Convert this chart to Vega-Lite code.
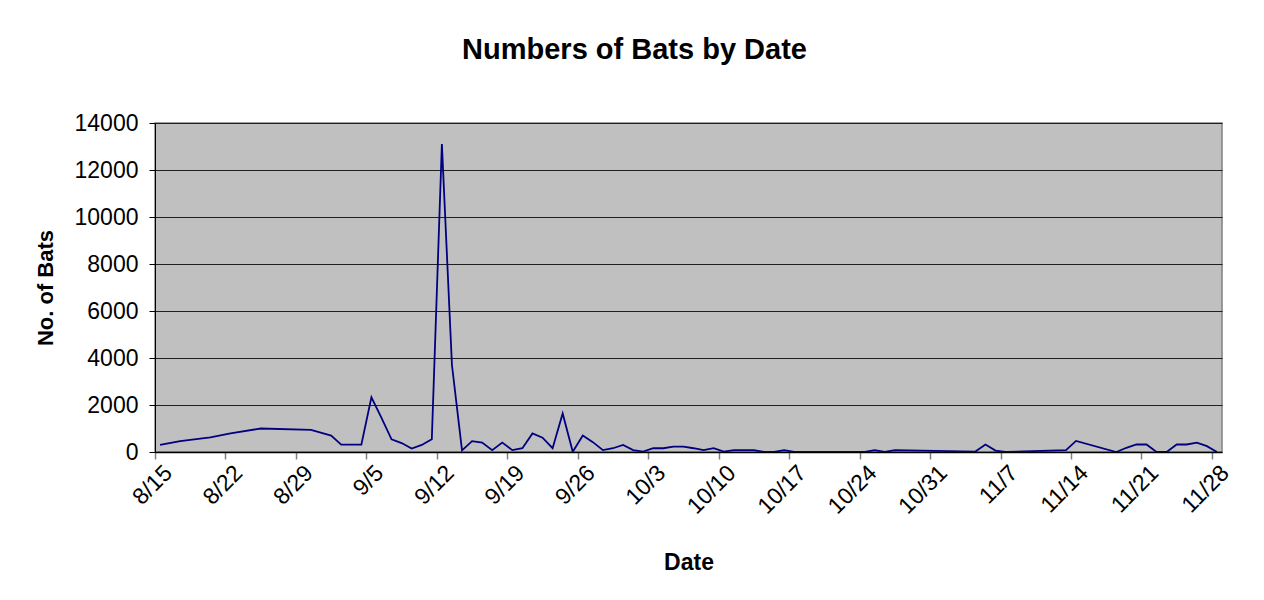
{
  "$schema": "https://vega.github.io/schema/vega-lite/v6.json",
  "width": 1067,
  "height": 329,
  "autosize": "none",
  "padding": {"left": 155, "top": 123, "right": 42, "bottom": 148},
  "background": "#FFFFFF",
  "config": {
    "font": "Liberation Sans",
    "view": {"fill": "#C0C0C0", "stroke": "#808080", "strokeWidth": 1.5}
  },
  "title": {
    "text": "Numbers of Bats by Date",
    "fontSize": 29,
    "fontWeight": "bold",
    "font": "Liberation Sans",
    "color": "#000000",
    "anchor": "middle",
    "frame": "group",
    "dx": -54,
    "offset": 47
  },
  "data": {
    "values": [
      {"date": "2008-08-15T12:00:00Z", "bats": 300},
      {"date": "2008-08-17T12:00:00Z", "bats": 460},
      {"date": "2008-08-20T12:00:00Z", "bats": 620},
      {"date": "2008-08-22T12:00:00Z", "bats": 790},
      {"date": "2008-08-25T12:00:00Z", "bats": 1000},
      {"date": "2008-08-30T12:00:00Z", "bats": 940},
      {"date": "2008-09-01T12:00:00Z", "bats": 700},
      {"date": "2008-09-02T12:00:00Z", "bats": 310},
      {"date": "2008-09-03T12:00:00Z", "bats": 310},
      {"date": "2008-09-04T12:00:00Z", "bats": 310},
      {"date": "2008-09-05T12:00:00Z", "bats": 2330},
      {"date": "2008-09-06T12:00:00Z", "bats": 1450},
      {"date": "2008-09-07T12:00:00Z", "bats": 540},
      {"date": "2008-09-08T12:00:00Z", "bats": 380},
      {"date": "2008-09-09T12:00:00Z", "bats": 150},
      {"date": "2008-09-10T12:00:00Z", "bats": 300},
      {"date": "2008-09-11T12:00:00Z", "bats": 540},
      {"date": "2008-09-12T12:00:00Z", "bats": 13100},
      {"date": "2008-09-13T12:00:00Z", "bats": 3700},
      {"date": "2008-09-14T12:00:00Z", "bats": 70},
      {"date": "2008-09-15T12:00:00Z", "bats": 460},
      {"date": "2008-09-16T12:00:00Z", "bats": 400},
      {"date": "2008-09-17T12:00:00Z", "bats": 80},
      {"date": "2008-09-18T12:00:00Z", "bats": 400},
      {"date": "2008-09-19T12:00:00Z", "bats": 80},
      {"date": "2008-09-20T12:00:00Z", "bats": 160},
      {"date": "2008-09-21T12:00:00Z", "bats": 790},
      {"date": "2008-09-22T12:00:00Z", "bats": 610},
      {"date": "2008-09-23T12:00:00Z", "bats": 160},
      {"date": "2008-09-24T12:00:00Z", "bats": 1640},
      {"date": "2008-09-25T12:00:00Z", "bats": 10},
      {"date": "2008-09-26T12:00:00Z", "bats": 700},
      {"date": "2008-09-27T12:00:00Z", "bats": 420},
      {"date": "2008-09-28T12:00:00Z", "bats": 80},
      {"date": "2008-09-29T12:00:00Z", "bats": 160},
      {"date": "2008-09-30T12:00:00Z", "bats": 300},
      {"date": "2008-10-01T12:00:00Z", "bats": 80},
      {"date": "2008-10-02T12:00:00Z", "bats": 20},
      {"date": "2008-10-03T12:00:00Z", "bats": 160},
      {"date": "2008-10-04T12:00:00Z", "bats": 160},
      {"date": "2008-10-05T12:00:00Z", "bats": 230},
      {"date": "2008-10-06T12:00:00Z", "bats": 230},
      {"date": "2008-10-07T12:00:00Z", "bats": 160},
      {"date": "2008-10-08T12:00:00Z", "bats": 80},
      {"date": "2008-10-09T12:00:00Z", "bats": 160},
      {"date": "2008-10-10T12:00:00Z", "bats": 20},
      {"date": "2008-10-11T12:00:00Z", "bats": 80},
      {"date": "2008-10-12T12:00:00Z", "bats": 80},
      {"date": "2008-10-13T12:00:00Z", "bats": 80},
      {"date": "2008-10-14T12:00:00Z", "bats": 0},
      {"date": "2008-10-15T12:00:00Z", "bats": 0},
      {"date": "2008-10-16T12:00:00Z", "bats": 80},
      {"date": "2008-10-17T12:00:00Z", "bats": 0},
      {"date": "2008-10-20T12:00:00Z", "bats": 0},
      {"date": "2008-10-24T12:00:00Z", "bats": 0},
      {"date": "2008-10-25T12:00:00Z", "bats": 80},
      {"date": "2008-10-26T12:00:00Z", "bats": 0},
      {"date": "2008-10-27T12:00:00Z", "bats": 80},
      {"date": "2008-10-31T12:00:00Z", "bats": 50},
      {"date": "2008-11-04T12:00:00Z", "bats": 20},
      {"date": "2008-11-05T12:00:00Z", "bats": 320},
      {"date": "2008-11-06T12:00:00Z", "bats": 60},
      {"date": "2008-11-07T12:00:00Z", "bats": 0},
      {"date": "2008-11-13T12:00:00Z", "bats": 80},
      {"date": "2008-11-14T12:00:00Z", "bats": 470},
      {"date": "2008-11-18T12:00:00Z", "bats": 0},
      {"date": "2008-11-19T12:00:00Z", "bats": 180},
      {"date": "2008-11-20T12:00:00Z", "bats": 320},
      {"date": "2008-11-21T12:00:00Z", "bats": 320},
      {"date": "2008-11-22T12:00:00Z", "bats": 0},
      {"date": "2008-11-23T12:00:00Z", "bats": 0},
      {"date": "2008-11-24T12:00:00Z", "bats": 320},
      {"date": "2008-11-25T12:00:00Z", "bats": 320},
      {"date": "2008-11-26T12:00:00Z", "bats": 400},
      {"date": "2008-11-27T12:00:00Z", "bats": 250},
      {"date": "2008-11-28T12:00:00Z", "bats": 0}
    ]
  },
  "mark": {"type": "line", "color": "#000080", "strokeWidth": 1.8, "clip": true},
  "encoding": {
    "x": {
      "field": "date",
      "type": "temporal",
      "scale": {
        "type": "utc",
        "domain": [
          {"year": 2008, "month": 8, "date": 15, "utc": true},
          {"year": 2008, "month": 11, "date": 29, "utc": true}
        ],
        "nice": false
      },
      "axis": {
        "title": "Date",
        "titleFontSize": 23,
        "titleFontWeight": "bold",
        "titleColor": "#000000",
        "titlePadding": 33,
        "values": [
          {"year": 2008, "month": 8, "date": 15, "utc": true},
          {"year": 2008, "month": 8, "date": 22, "utc": true},
          {"year": 2008, "month": 8, "date": 29, "utc": true},
          {"year": 2008, "month": 9, "date": 5, "utc": true},
          {"year": 2008, "month": 9, "date": 12, "utc": true},
          {"year": 2008, "month": 9, "date": 19, "utc": true},
          {"year": 2008, "month": 9, "date": 26, "utc": true},
          {"year": 2008, "month": 10, "date": 3, "utc": true},
          {"year": 2008, "month": 10, "date": 10, "utc": true},
          {"year": 2008, "month": 10, "date": 17, "utc": true},
          {"year": 2008, "month": 10, "date": 24, "utc": true},
          {"year": 2008, "month": 10, "date": 31, "utc": true},
          {"year": 2008, "month": 11, "date": 7, "utc": true},
          {"year": 2008, "month": 11, "date": 14, "utc": true},
          {"year": 2008, "month": 11, "date": 21, "utc": true},
          {"year": 2008, "month": 11, "date": 28, "utc": true}
        ],
        "labelExpr": "utcFormat(datum.value, '%-m/%-d')",
        "labelAngle": -45,
        "labelAlign": "right",
        "labelBaseline": "middle",
        "labelFontSize": 23,
        "labelColor": "#000000",
        "labelPadding": 10,
        "labelOffset": 13,
        "labelOverlap": false,
        "labelFlush": false,
        "grid": false,
        "domainColor": "#000000",
        "domainWidth": 1.5,
        "tickColor": "#808080",
        "tickSize": 7,
        "tickWidth": 1.5
      }
    },
    "y": {
      "field": "bats",
      "type": "quantitative",
      "scale": {"domain": [0, 14000], "nice": false},
      "axis": {
        "title": "No. of Bats",
        "titleFontSize": 22,
        "titleFontWeight": "bold",
        "titleColor": "#000000",
        "titlePadding": 17,
        "values": [0, 2000, 4000, 6000, 8000, 10000, 12000, 14000],
        "format": "d",
        "labelFontSize": 23,
        "labelColor": "#000000",
        "labelPadding": 11,
        "grid": true,
        "gridColor": "#202020",
        "gridWidth": 1.2,
        "domainColor": "#000000",
        "domainWidth": 1,
        "tickColor": "#000000",
        "tickSize": 6
      }
    }
  }
}
